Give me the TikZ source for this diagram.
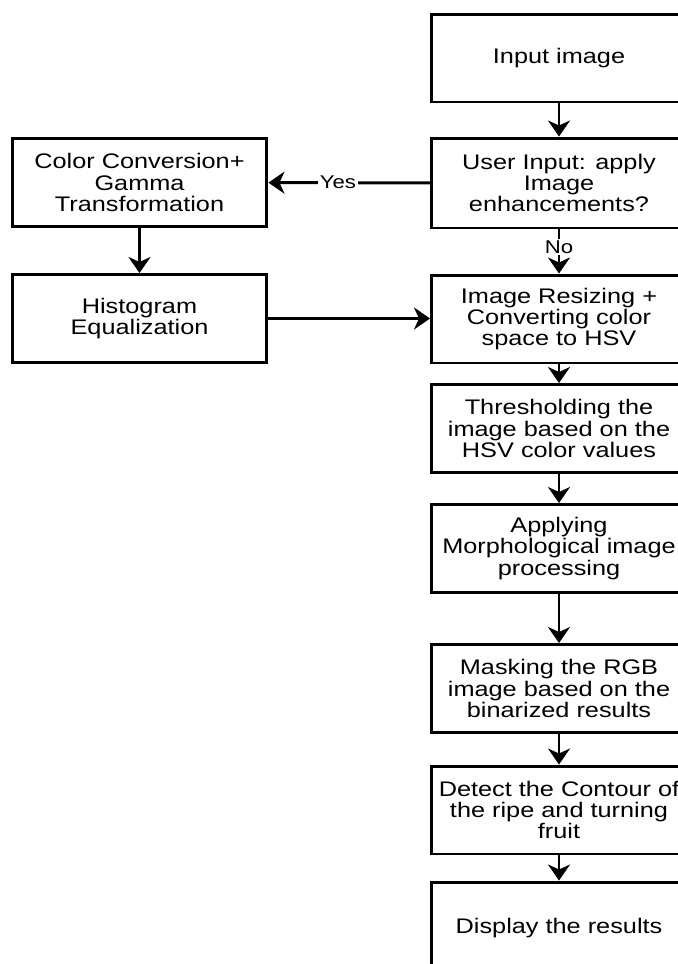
\documentclass[tikz,border=0pt]{standalone}
\usepackage{fontspec}
\setmainfont[FakeStretch=1.2]{Liberation Sans}
\usetikzlibrary{arrows.meta}

\begin{document}
\begin{tikzpicture}[x=0.02cm, y=-0.02cm, >={Stealth[length=0.32cm, width=0.44cm, inset=0.1cm]},
    box/.style={draw, line width=1.7pt, align=center, minimum width=5.1cm, minimum height=1.76cm,
      inner sep=0pt, font=\fontsize{12}{12.2}\selectfont},
    flow/.style={->, line width=1.7pt},
    tag/.style={fill=white, inner sep=1pt, font=\fontsize{10.5}{12}\selectfont}]

  \useasboundingbox (0,0) rectangle (678,964);
  \clip (0,0) rectangle (678,964);

  %--------------------------
  % Main column
  %--------------------------
  \node[box] (input)   at (559,58)    {Input image};
  \node[box, minimum height=1.8cm] (ask) at (559,183) {User Input: apply\\Image\\enhancements?};
  \node[box] (resize)  at (559,319)   {Image Resizing +\\Converting color\\space to HSV};
  \node[box] (thresh)  at (559,428.5) {Thresholding the\\image based on the\\HSV color values};
  \node[box] (morph)   at (559,548.5) {Applying\\Morphological image\\processing};
  \node[box] (mask)    at (559,688.5) {Masking the RGB\\image based on the\\binarized results};
  \node[box] (contour) at (559,810)   {Detect the Contour of\\the ripe and turning\\fruit};
  \node[box, minimum height=1.84cm] (show) at (559,928) {Display the results};

  %--------------------------
  % Enhancement branch
  %--------------------------
  \node[box] (gamma) at (139.5,182.5) {Color Conversion+\\Gamma\\Transformation};
  \node[box] (hist)  at (139.5,318.5) {Histogram\\Equalization};

  % Arrows
  \draw[flow] (input) -- (ask);
  \draw[flow] (ask) -- node[tag, pos=0.57] {Yes} (gamma);
  \draw[flow] (ask) -- node[tag, pos=0.4] {No} (resize);
  \draw[flow] (gamma) -- (hist);
  \draw[flow] (hist) -- (hist -| resize.west);
  \draw[flow] (resize) -- (thresh);
  \draw[flow] (thresh) -- (morph);
  \draw[flow] (morph) -- (mask);
  \draw[flow] (mask) -- (contour);
  \draw[flow] (contour) -- (show);

\end{tikzpicture}
\end{document}
